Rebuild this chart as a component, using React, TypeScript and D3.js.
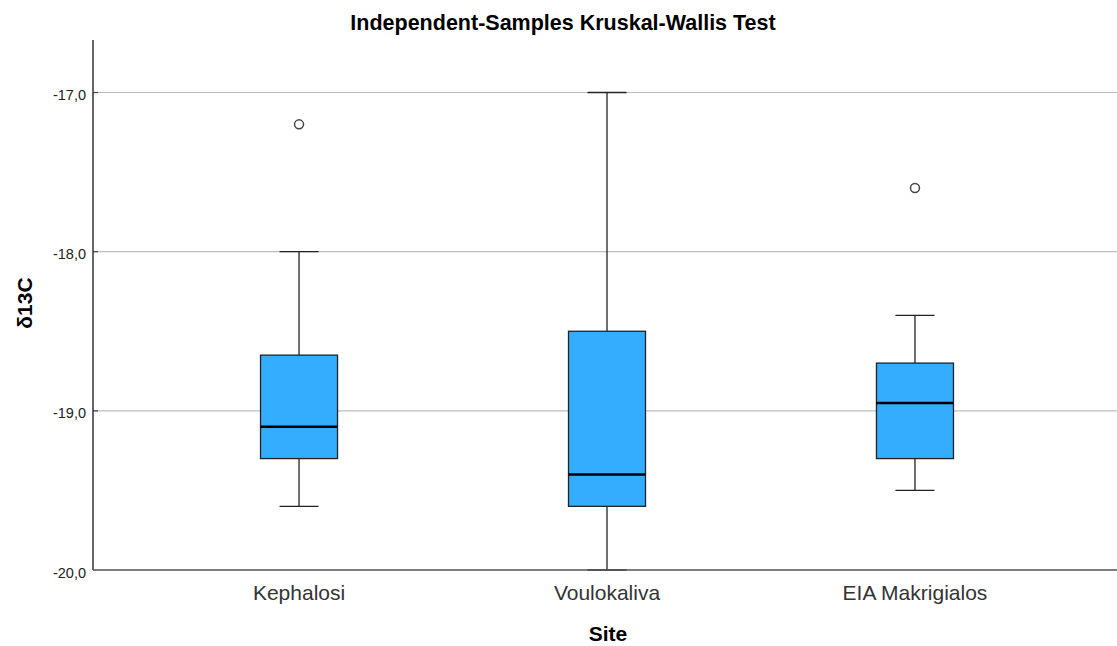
import * as d3 from "d3";
import React from "react";

// box plot stats (δ13C per site)
const sites = ["Kephalosi", "Voulokaliva", "EIA Makrigialos"];
const whiskerLow = [-19.6, -20.0, -19.5];
const q1 = [-19.3, -19.6, -19.3];
const median = [-19.1, -19.4, -18.95];
const q3 = [-18.65, -18.5, -18.7];
const whiskerHigh = [-18.0, -17.0, -18.4];
const outliers = [[-17.2], [], [-17.6]];
const yTicks = [-20, -19, -18, -17];

const W = 1117;
const H = 646;
const left = 93;
const right = 1117;
const top = 40;
const bottom = 570;
const font = "'Liberation Sans', Arial, sans-serif";

const App = () => {
  const x = d3.scalePoint<string>().domain(sites).range([left, right + 4]).padding(0.669);
  const y = d3.scaleLinear().domain([-20, -16.67]).range([bottom, top]);
  const boxW = 77;
  const capW = 39;
  const fmt = (v: number) => d3.format(".1f")(v).replace("−", "-").replace(".", ",");

  return (
    <svg width={W} height={H} style={{ position: "absolute", left: 0, top: 0, background: "#fff" }}>
      <text x={563} y={30} textAnchor="middle" fontFamily={font} fontWeight="bold" fontSize={21.5} fill="#000">
        Independent-Samples Kruskal-Wallis Test
      </text>

      {yTicks.map((t) => (
        <g key={t}>
          {t > -20 && <line x1={left} x2={right} y1={y(t)} y2={y(t)} stroke="#bdbdbd" strokeWidth={1.2} />}
          {t > -20 && <line x1={left} x2={left + 5} y1={y(t)} y2={y(t)} stroke="#444" strokeWidth={1.2} />}
          <text x={left - 7} y={y(t) + 7.5} textAnchor="end" fontFamily={font} fontSize={14.5} fill="#222">
            {fmt(t)}
          </text>
        </g>
      ))}

      {sites.map((s, i) => {
        const cx = x(s)!;
        return (
          <g key={s}>
            <line x1={cx} x2={cx} y1={y(whiskerHigh[i])} y2={y(q3[i])} stroke="#222" strokeWidth={1.3} />
            <line x1={cx} x2={cx} y1={y(q1[i])} y2={y(whiskerLow[i])} stroke="#222" strokeWidth={1.3} />
            <line x1={cx - capW / 2} x2={cx + capW / 2} y1={y(whiskerHigh[i])} y2={y(whiskerHigh[i])} stroke="#222" strokeWidth={1.3} />
            <line x1={cx - capW / 2} x2={cx + capW / 2} y1={y(whiskerLow[i])} y2={y(whiskerLow[i])} stroke="#222" strokeWidth={1.3} />
            <rect
              x={cx - boxW / 2}
              y={y(q3[i])}
              width={boxW}
              height={y(q1[i]) - y(q3[i])}
              fill="#33adff"
              stroke="#222"
              strokeWidth={1.3}
            />
            <line x1={cx - boxW / 2} x2={cx + boxW / 2} y1={y(median[i])} y2={y(median[i])} stroke="#000" strokeWidth={2.5} />
            {outliers[i].map((o, j) => (
              <circle key={j} cx={cx} cy={y(o)} r={4.5} fill="#fff" stroke="#444" strokeWidth={1.5} />
            ))}
            <text x={cx} y={bottom + 30} textAnchor="middle" fontFamily={font} fontSize={21} fill="#333">
              {s}
            </text>
          </g>
        );
      })}

      <line x1={left} x2={left} y1={top} y2={bottom} stroke="#333" strokeWidth={1.5} />
      <line x1={left} x2={right} y1={bottom} y2={bottom} stroke="#555" strokeWidth={1.5} />

      <text x={608} y={641} textAnchor="middle" fontFamily={font} fontWeight="bold" fontSize={21} fill="#000">
        Site
      </text>
      <text
        transform="translate(32,303) rotate(-90)"
        textAnchor="middle"
        fontFamily={font}
        fontWeight="bold"
        fontSize={21}
        fill="#000"
      >
        δ13C
      </text>
    </svg>
  );
};

export default App;
